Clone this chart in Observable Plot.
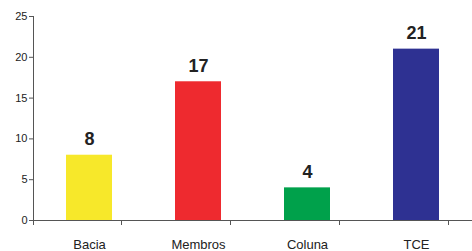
<!DOCTYPE html>
<html>
<head>
<meta charset="utf-8">
<script src="https://cdn.jsdelivr.net/npm/d3@7"></script>
<script src="https://cdn.jsdelivr.net/npm/@observablehq/plot@0.6"></script>
<style>
html,body{margin:0;padding:0;background:#fff;}
svg{display:block;}
</style>
</head>
<body>
<div id="chart"></div>
<script>
const categories = ["Bacia", "Membros", "Coluna", "TCE"];
const values = [8, 17, 4, 21];
const colors = ["#f7e82a", "#ee2a2f", "#00a14b", "#2e3192"];
const yTicks = [0, 5, 10, 15, 20, 25];

const data = categories.map((c, i) => ({cat: c, value: values[i], color: colors[i]}));

// tick marks at band boundaries on the x axis
function boundaryTicks() {
  return (index, scales, values, dims) => {
    const x = scales.x, y = scales.y;
    const centers = categories.map(c => x(c));
    const step = centers[1] - centers[0];
    const y0 = y(0);
    const g = d3.create("svg:g").attr("stroke", "#555").attr("stroke-width", 1);
    centers.forEach(cx => {
      const bx = Math.round(cx + step / 2) + 0.5;
      g.append("line").attr("x1", bx).attr("x2", bx).attr("y1", y0).attr("y2", y0 + 5);
    });
    // extend y-axis line a little below the baseline
    const lx = dims.marginLeft + 0.5;
    g.append("line").attr("x1", lx).attr("x2", lx).attr("y1", y(25)).attr("y2", y0 + 5);
    g.append("line").attr("x1", lx).attr("x2", dims.width).attr("y1", y0 + 0.5).attr("y2", y0 + 0.5);
    return g.node();
  };
}

const chart = Plot.plot({
  width: 472,
  height: 251,
  marginLeft: 33,
  marginRight: 0,
  marginTop: 16,
  marginBottom: 31,
  style: {fontFamily: "'Liberation Sans', Arial, sans-serif", color: "#222", background: "#fff"},
  x: {domain: categories, paddingInner: 0.58, paddingOuter: 0.29, align: 0.5, label: null},
  y: {domain: [0, 25], label: null},
  marks: [
    Plot.barY(data, {x: "cat", y: "value", fill: d => d.color}),
    Plot.text(data, {x: "cat", y: "value", text: d => String(d.value), lineAnchor: "bottom", dy: -10, fontSize: 18, fontWeight: "bold", fill: "#222"}),
    Plot.axisY({ticks: yTicks, tickSize: 4, tickPadding: 2, fontSize: 11, stroke: "#555", label: null}),
    Plot.axisX({tickSize: 0, tickPadding: 19, fontSize: 13, label: null}),
    boundaryTicks()
  ]
});
document.getElementById("chart").append(chart);
</script>
</body>
</html>
